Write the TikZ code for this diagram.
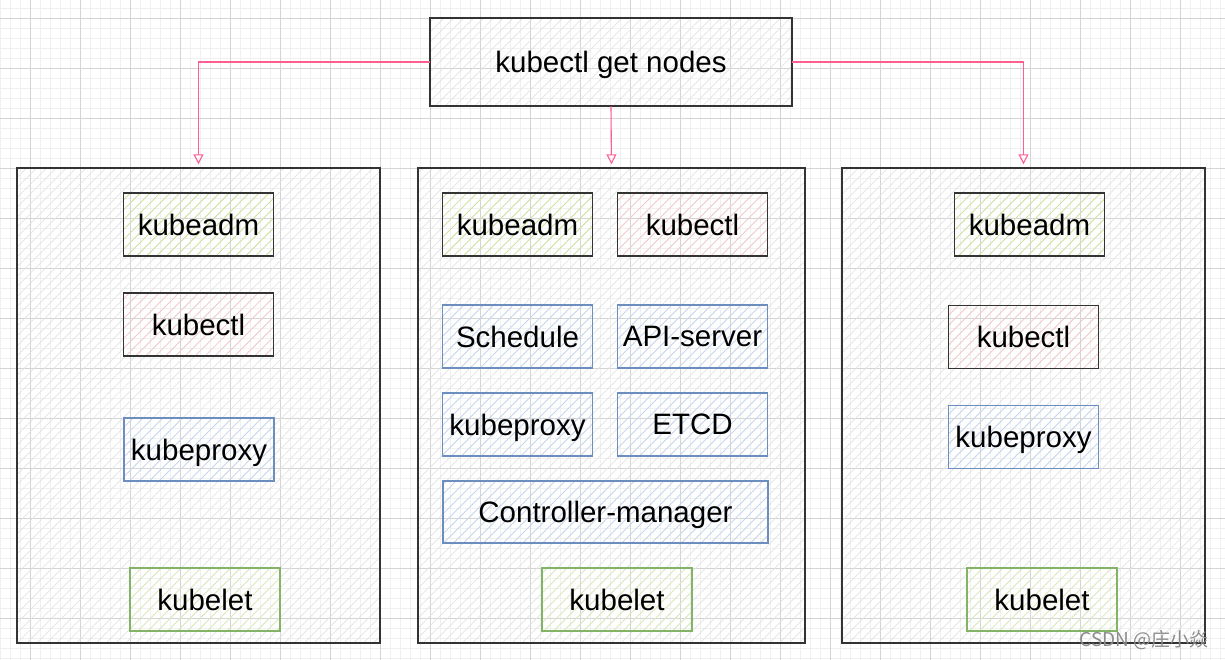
\documentclass[tikz,border=0pt]{standalone}
\usepackage{fontspec}
\setmainfont{Liberation Sans}
\newfontfamily\cjk{Noto Sans CJK SC}
\usetikzlibrary{arrows.meta,patterns.meta}

\definecolor{gridmajor}{RGB}{212,212,212}
\definecolor{gridminor}{RGB}{240,240,240}
\definecolor{boxline}{RGB}{51,51,51}
\definecolor{hatchgray}{RGB}{226,226,226}
\definecolor{greenhatch}{RGB}{205,228,150}
\definecolor{redhatch}{RGB}{248,200,200}
\definecolor{bluehatch}{RGB}{196,214,244}
\definecolor{blueline}{RGB}{108,142,191}
\definecolor{greenline}{RGB}{130,179,102}
\definecolor{pinkline}{RGB}{255,94,144}

\begin{document}
\begin{tikzpicture}[x=1pt, y=-1pt,
    hatch/.style={pattern={Lines[angle=45,distance=7pt,line width=0.7pt]}},
    hostbox/.style={draw=boxline, line width=1.4pt, hatch, pattern color=hatchgray, inner sep=0pt},
    toolbox/.style={draw=boxline, line width=1.2pt, hatch, inner sep=0pt, text depth=0pt,
        minimum width=150pt, minimum height=63pt, font=\fontsize{29.5}{34}\selectfont},
    greenbox/.style={toolbox, pattern color=greenhatch},
    redbox/.style={toolbox, pattern color=redhatch},
    bluebox/.style={toolbox, draw=blueline, pattern color=bluehatch},
    letbox/.style={toolbox, draw=greenline, pattern color=greenhatch!70},
    callarrow/.style={draw=pinkline, line width=1.1pt, -{Triangle[open,length=10pt,width=10pt]}, shorten >=3pt}]

% Set the canvas size
\useasboundingbox (0,0) rectangle (1225,660);

% Draw the background grid
\foreach \x in {0,10,...,1220} \draw[gridminor, line width=0.6pt] (\x,0) -- (\x,660);
\foreach \y in {8,18,...,658} \draw[gridminor, line width=0.6pt] (0,\y) -- (1225,\y);
\foreach \x in {30,80,...,1180} \draw[gridmajor, line width=0.8pt] (\x,0) -- (\x,660);
\foreach \y in {18,68,...,618} \draw[gridmajor, line width=0.8pt] (0,\y) -- (1225,\y);

% Command box
\node[hostbox, minimum width=362pt, minimum height=88pt, text depth=0pt, font=\fontsize{29.5}{34}\selectfont] (cmd) at (611,62) {kubectl get nodes};

% Three hosts
\node[hostbox, minimum width=363pt, minimum height=475pt] (hostl) at (198.5,405.5) {};
\node[hostbox, minimum width=387pt, minimum height=475pt] (hostm) at (611.5,405.5) {};
\node[hostbox, minimum width=363pt, minimum height=475pt] (hostr) at (1023.5,405.5) {};

% Left host
\node[greenbox] (ladm) at (198.5,224.5) {kubeadm};
\node[redbox] (lctl) at (198.5,324.5) {kubectl};
\node[bluebox] (lproxy) at (199,449.5) {kubeproxy};
\node[letbox] (llet) at (205,599.5) {kubelet};

% Middle host
\node[greenbox] (madm) at (517.5,224.5) {kubeadm};
\node[redbox] (mctl) at (692.5,224.5) {kubectl};
\node[bluebox] (msched) at (517.5,336.5) {Schedule};
\node[bluebox] (mapi) at (692.5,336.5) {API-server};
\node[bluebox] (mproxy) at (517.5,424.5) {kubeproxy};
\node[bluebox] (metcd) at (692.5,424.5) {ETCD};
\node[bluebox, minimum width=325pt, minimum height=62pt] (mcm) at (605.5,512) {Controller-manager};
\node[letbox] (mlet) at (617,599.5) {kubelet};

% Right host
\node[greenbox] (radm) at (1029.5,224.5) {kubeadm};
\node[redbox] (rctl) at (1023.5,337) {kubectl};
\node[bluebox] (rproxy) at (1023.5,437) {kubeproxy};
\node[letbox] (rlet) at (1042,599.5) {kubelet};

% Arrows from the command
\draw[callarrow] (cmd.west) -| (hostl.north);
\draw[callarrow] (cmd.south) -- (hostm.north);
\draw[callarrow] (cmd.east) -| (hostr.north);

% Watermark
\node[text=black!45, font=\fontsize{19}{21}\selectfont\cjk, anchor=east] (mark) at (1212,640) {CSDN @庄小焱};
\end{tikzpicture}
\end{document}
